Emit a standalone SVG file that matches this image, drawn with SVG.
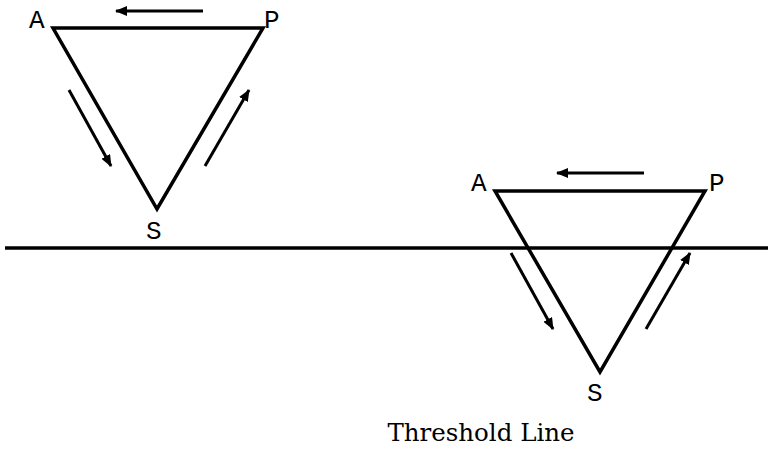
<svg xmlns="http://www.w3.org/2000/svg" width="768" height="456" viewBox="0 0 768 456">
<defs>
<marker id="ah" markerWidth="12" markerHeight="10" refX="11" refY="5" orient="auto" markerUnits="userSpaceOnUse">
<path d="M0,0 L12,5 L0,10 Z" fill="#000"/>
</marker>
</defs>
<style>
.tri{fill:none;stroke:#000;stroke-width:3.5;stroke-linejoin:miter}
.arr{stroke:#000;stroke-width:3;fill:none;marker-end:url(#ah)}
.lbl{font-family:"Liberation Mono","Courier New",monospace;font-size:26px;fill:#000}
.cap{font-family:"DejaVu Serif","Liberation Serif",serif;font-size:24.5px;fill:#000}
</style>
<rect width="768" height="456" fill="#fff"/>
<g id="threshold">
<line x1="5" y1="248" x2="768" y2="248" stroke="#000" stroke-width="3.5"/>
</g>
<g id="triangle1">
<polygon class="tri" points="53,28 263,28 157,209"/>
<text class="lbl" x="29" y="28">A</text>
<text class="lbl" x="264" y="28">P</text>
<text class="lbl" x="146" y="239">S</text>
</g>
<g id="triangle2">
<polygon class="tri" points="495,191 705,191 600,372"/>
<text class="lbl" x="471" y="191">A</text>
<text class="lbl" x="709" y="191">P</text>
<text class="lbl" x="587" y="401">S</text>
</g>
<g id="connectors">
<line class="arr" x1="203" y1="11" x2="116" y2="11"/>
<line class="arr" x1="69" y1="90" x2="111" y2="166"/>
<line class="arr" x1="205" y1="166" x2="249" y2="90"/>
<line class="arr" x1="644" y1="173" x2="557" y2="173"/>
<line class="arr" x1="511" y1="253" x2="553" y2="329"/>
<line class="arr" x1="646" y1="329" x2="690" y2="253"/>
</g>
<g id="caption">
<text class="cap" x="481" y="441" text-anchor="middle">Threshold Line</text>
</g>
</svg>
